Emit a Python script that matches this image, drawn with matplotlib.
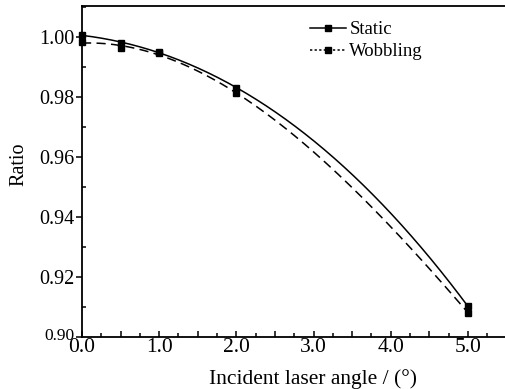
import matplotlib
matplotlib.use('Agg')
import matplotlib.pyplot as plt
import numpy as np
from matplotlib.lines import Line2D
from matplotlib.ticker import MultipleLocator, FuncFormatter
import matplotlib.transforms as mtransforms

plt.rcParams['font.family'] = ['Liberation Serif', 'DejaVu Serif']

angle = [0.0, 0.5, 1.0, 2.0, 5.0]
static = [1.0005, 0.9980, 0.9948, 0.9830, 0.9102]
wobbling = [0.9981, 0.9963, 0.9945, 0.9811, 0.9081]


# smooth line through the points (cubic fit, only for drawing the curve)
def smooth(xs, ys, n=200):
    c = np.polyfit(xs, ys, 3)
    xx = np.linspace(min(xs), max(xs), n)
    return xx, np.polyval(c, xx)


fig = plt.figure(figsize=(5.05, 3.89), dpi=100)
ax = fig.add_axes([82 / 505, 52 / 389, 1 - 82 / 505, 331 / 389])

xs, ys = smooth(angle, static)
ax.plot(xs, ys, color='black', lw=1.1, clip_on=False)
xw, yw = smooth(angle, wobbling)
ax.plot(xw, yw, color='black', lw=1.1, dashes=(6, 3.5), clip_on=False)
ax.plot(angle, static, 's', color='black', ms=4.5, clip_on=False, zorder=5)
ax.plot(angle, wobbling, 's', color='black', ms=4.5, clip_on=False, zorder=5)

ax.set_xlim(0, 5.48)
ax.set_ylim(0.90, 1.0102)

ax.spines['right'].set_visible(False)
for s in ['left', 'bottom', 'top']:
    ax.spines[s].set_linewidth(1.3)

ax.xaxis.set_major_locator(MultipleLocator(0.5))
ax.xaxis.set_minor_locator(MultipleLocator(0.25))
ax.xaxis.set_major_formatter(FuncFormatter(
    lambda v, p: f'{v:.1f}' if abs(v - round(v)) < 1e-6 else ''))
ax.yaxis.set_major_locator(MultipleLocator(0.02))
ax.yaxis.set_minor_locator(MultipleLocator(0.01))
ax.yaxis.set_major_formatter(FuncFormatter(lambda v, p: f'{v:.2f}'))

ax.tick_params(axis='x', which='major', direction='in', length=4.5, width=1.1,
               labelsize=15.5, pad=0.5, top=False)
ax.tick_params(axis='x', which='minor', direction='in', length=3, width=1.1, top=False)
ax.tick_params(axis='y', which='major', direction='out', length=4, width=1.1,
               labelsize=14.5, pad=1.5, right=False)
ax.tick_params(axis='y', which='minor', direction='in', length=3, width=1.1, right=False)

fig.canvas.draw()
for lab in ax.get_yticklabels():
    if lab.get_text() == '0.90':
        lab.set_fontsize(12.5)
        lab.set_transform(lab.get_transform() + mtransforms.ScaledTranslation(0, 3 / 100, fig.dpi_scale_trans))

fig.text(313 / 505, 1 - 379 / 389, 'Incident laser angle / (°)', ha='center', va='center', fontsize=15.5)
fig.text(19 / 505, 1 - 164 / 389, 'Ratio', ha='center', va='center', rotation=90, fontsize=14.5)

handles = [
    Line2D([], [], color='black', lw=1.1, marker='s', ms=4, markevery=[1], ls='-'),
    Line2D([], [], color='black', lw=1.1, marker='s', ms=4, markevery=[1], ls=(0, (1.5, 1.5))),
]
ax.legend(handles, ['Static', 'Wobbling'], loc='upper left',
          bbox_to_anchor=(310 / 505, 1 - 21 / 389), bbox_transform=fig.transFigure,
          frameon=False, fontsize=13.5, handlelength=1.9, handletextpad=0.2,
          labelspacing=0.28, borderpad=0, borderaxespad=0)

fig.savefig('out.png', dpi=100)
